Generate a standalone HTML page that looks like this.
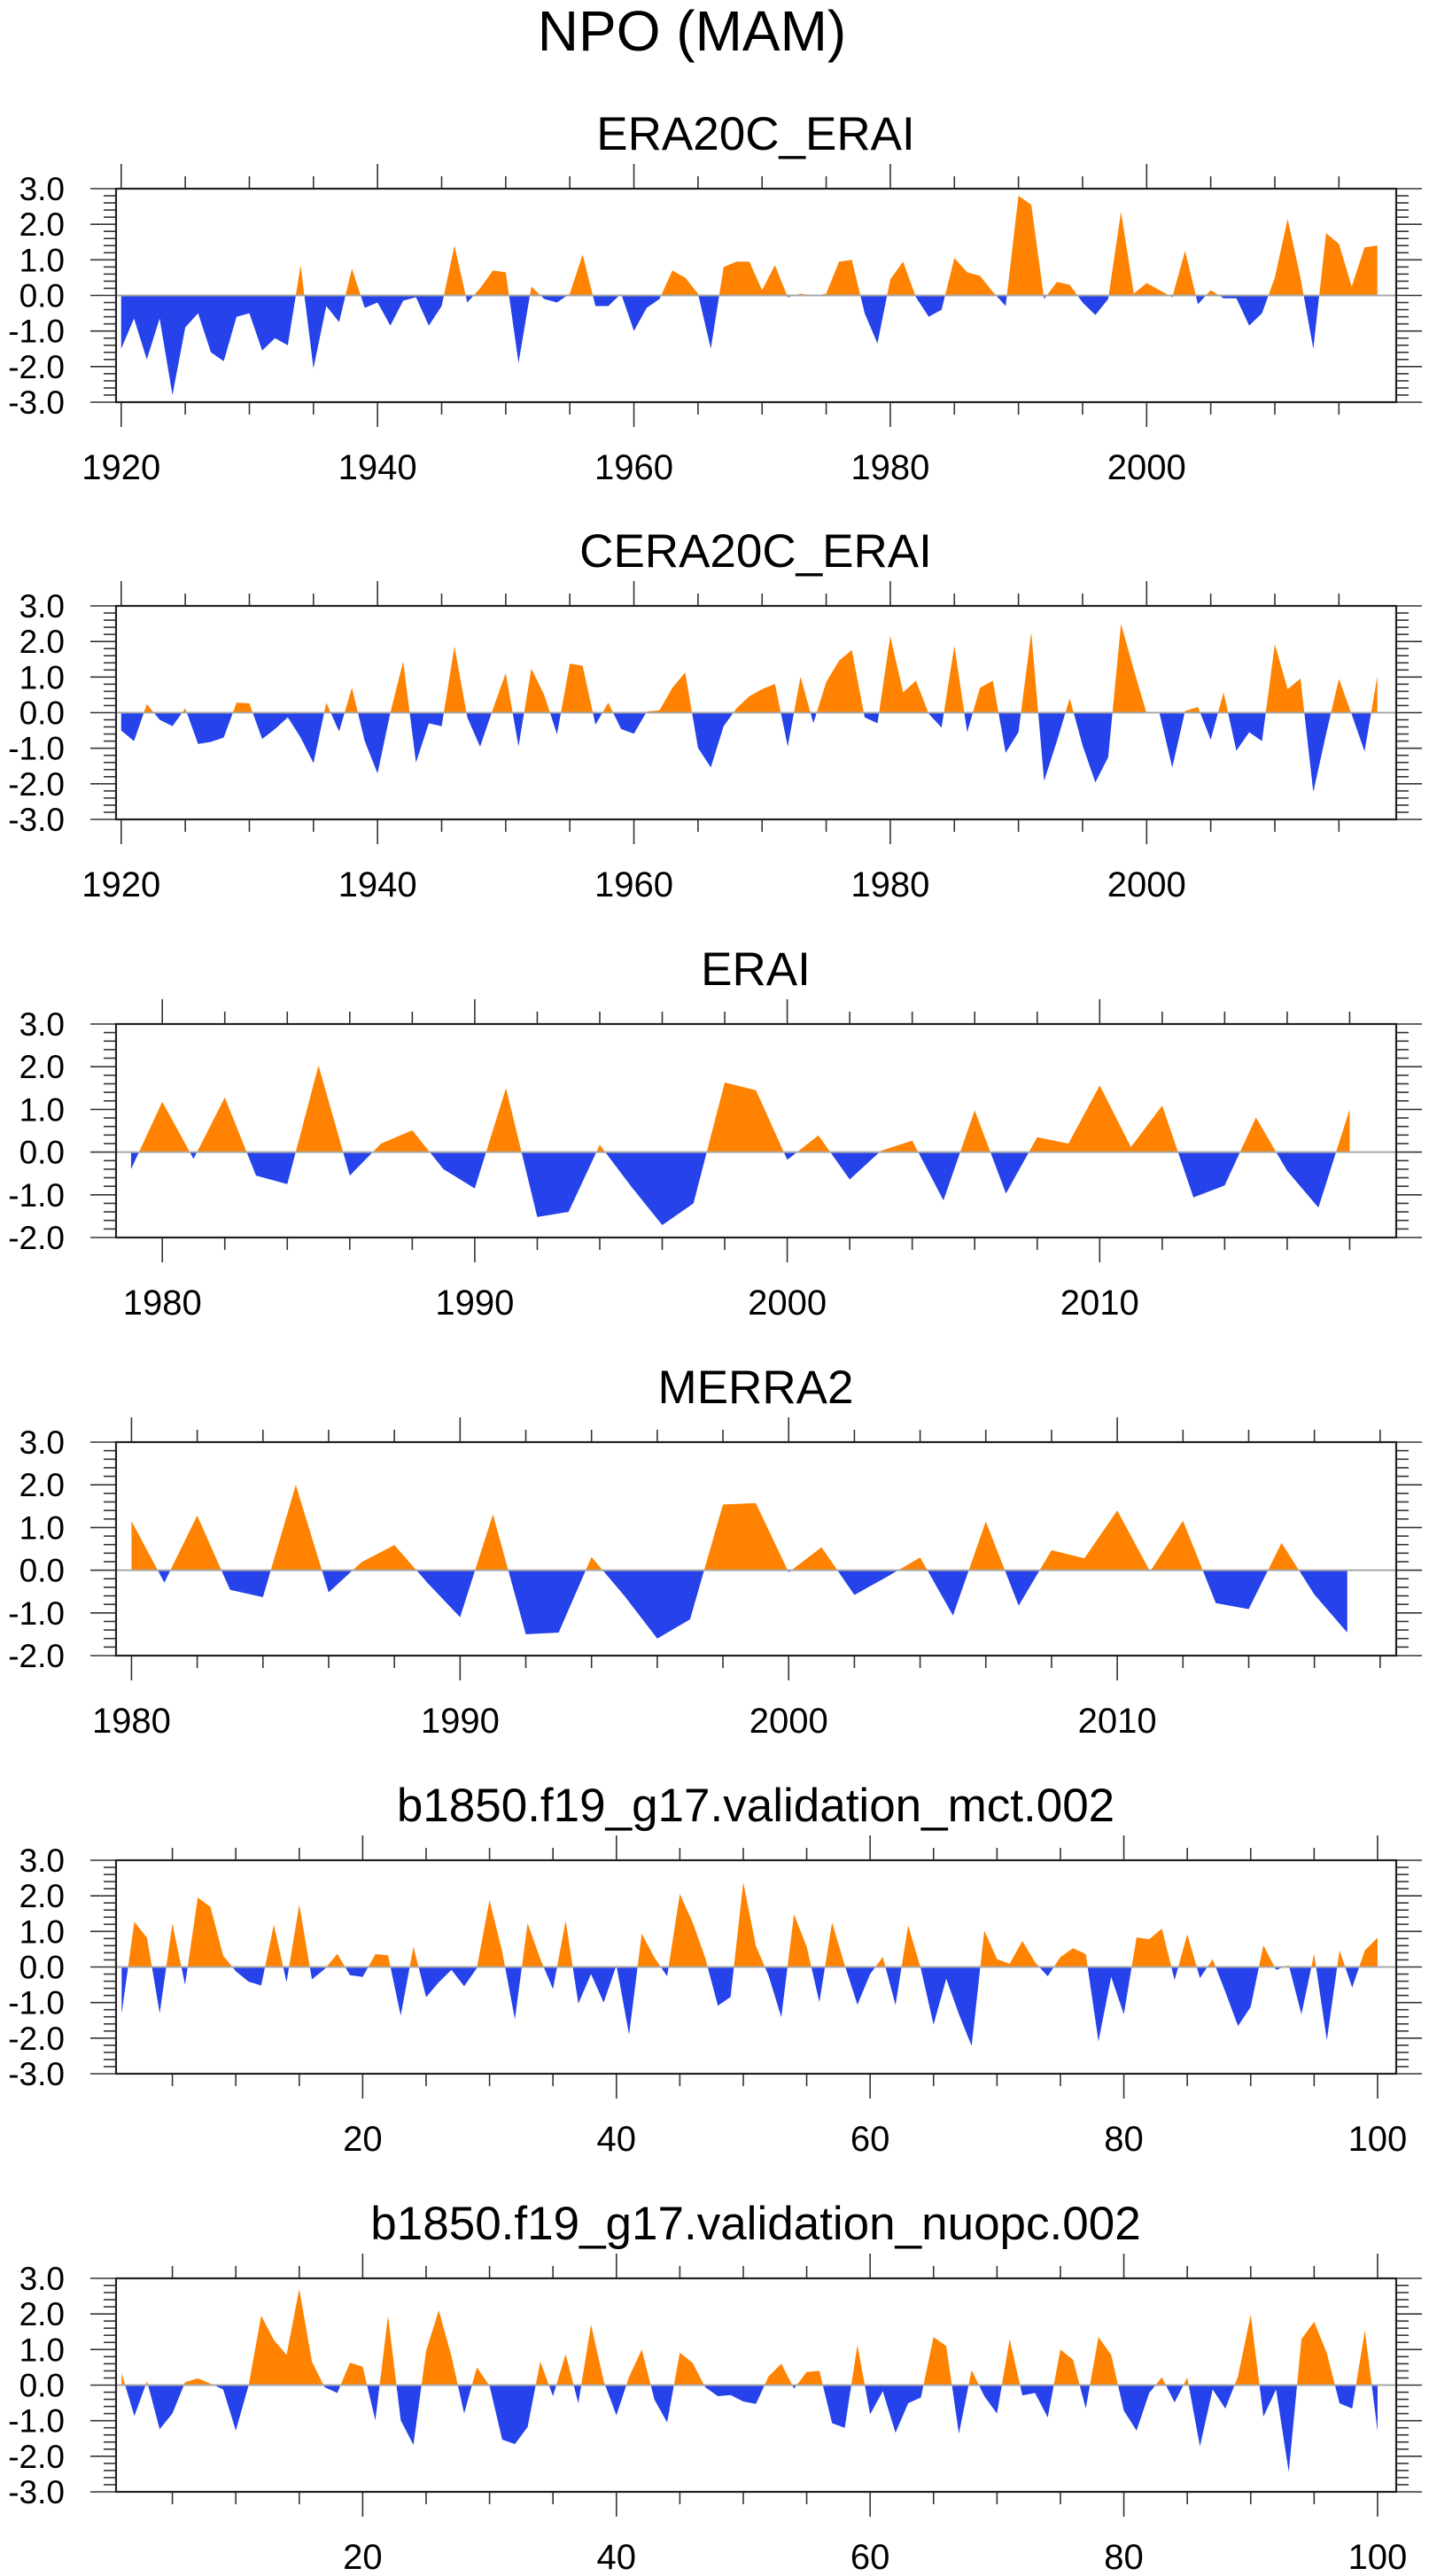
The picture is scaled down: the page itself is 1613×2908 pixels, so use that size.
<!DOCTYPE html>
<html>
<head>
<meta charset="utf-8">
<style>
  html, body { margin: 0; padding: 0; background: #fff; }
  svg { display: block; }
  text { font-family: "Liberation Sans", "DejaVu Sans", sans-serif; fill: #000; }
</style>
</head>
<body>
<svg id="chart" width="1613" height="2908" viewBox="0 0 1613 2908" xmlns="http://www.w3.org/2000/svg">
  <rect x="0" y="0" width="1613" height="2908" fill="#fff"/>
  <text x="781" y="57" font-size="64" text-anchor="middle">NPO (MAM)</text>
</svg>
<script>
// ---- data ----
const era20cStart = 1920;
const era20cVals = [-1.5,-0.65,-1.8,-0.65,-2.8,-0.9,-0.5,-1.6,-1.85,-0.6,-0.5,-1.55,-1.2,-1.4,0.85,-2.05,-0.3,-0.75,0.75,-0.35,-0.2,-0.85,-0.15,-0.05,-0.85,-0.3,1.4,-0.2,0.2,0.7,0.65,-1.9,0.25,-0.1,-0.2,0.05,1.15,-0.3,-0.3,0.05,-1.0,-0.35,-0.1,0.7,0.5,0.05,-1.5,0.8,0.95,0.95,0.15,0.85,-0.05,0.05,-0.02,0.05,0.95,1.0,-0.5,-1.35,0.45,0.95,-0.05,-0.6,-0.4,1.05,0.65,0.55,0.1,-0.3,2.8,2.55,-0.1,0.38,0.3,-0.2,-0.55,-0.1,2.35,0.05,0.35,0.15,-0.05,1.25,-0.25,0.15,-0.08,-0.08,-0.85,-0.5,0.5,2.15,0.5,-1.5,1.75,1.45,0.25,1.35,1.4];
const cera20cStart = 1920;
const cera20cVals = [-0.5,-0.8,0.24,-0.2,-0.38,0.12,-0.88,-0.82,-0.7,0.28,0.26,-0.74,-0.46,-0.13,-0.7,-1.42,0.28,-0.53,0.7,-0.8,-1.71,0.0,1.44,-1.4,-0.3,-0.38,1.86,-0.13,-0.96,0.1,1.11,-0.95,1.24,0.5,-0.61,1.38,1.32,-0.34,0.28,-0.46,-0.59,0.03,0.07,0.7,1.13,-0.99,-1.54,-0.38,0.12,0.46,0.66,0.81,-0.95,1.01,-0.3,0.86,1.46,1.76,-0.13,-0.3,2.15,0.57,0.9,-0.03,-0.42,1.88,-0.55,0.7,0.9,-1.13,-0.55,2.26,-1.92,-0.8,0.4,-0.92,-1.96,-1.25,2.5,1.2,-0.02,-0.02,-1.54,0.05,0.16,-0.76,0.57,-1.07,-0.55,-0.8,1.92,0.66,0.96,-2.23,-0.6,0.95,-0.05,-1.09,1.03];
const eraiStart = 1979;
const eraiVals = [-0.4,1.18,-0.16,1.28,-0.55,-0.75,2.03,-0.55,0.2,0.51,-0.4,-0.85,1.5,-1.52,-1.4,0.17,-0.8,-1.71,-1.2,1.63,1.45,-0.18,0.39,-0.64,0.03,0.27,-1.13,0.98,-0.97,0.35,0.2,1.56,0.12,1.09,-1.06,-0.78,0.81,-0.44,-1.3,1.0];
const merra2Start = 1980;
const merra2Vals = [1.15,-0.29,1.28,-0.46,-0.63,2.0,-0.52,0.19,0.59,-0.29,-1.1,1.31,-1.5,-1.46,0.31,-0.6,-1.6,-1.15,1.54,1.57,-0.05,0.54,-0.58,-0.15,0.3,-1.06,1.14,-0.83,0.47,0.28,1.4,-0.03,1.16,-0.77,-0.91,0.64,-0.57,-1.46];
const mctStart = 1;
const mctVals = [-1.32,1.27,0.82,-1.3,1.22,-0.5,1.95,1.69,0.32,-0.12,-0.41,-0.52,1.19,-0.43,1.75,-0.35,-0.06,0.37,-0.23,-0.28,0.36,0.33,-1.37,0.57,-0.85,-0.43,-0.08,-0.54,-0.03,1.88,0.43,-1.47,1.23,0.23,-0.62,1.3,-1.03,-0.2,-1.0,0.05,-1.9,0.94,0.26,-0.26,2.05,1.26,0.26,-1.09,-0.84,2.38,0.59,-0.25,-1.41,1.48,0.57,-0.99,1.25,0.05,-1.06,-0.2,0.28,-1.07,1.17,-0.05,-1.62,-0.33,-1.33,-2.22,1.02,0.22,0.09,0.73,0.13,-0.26,0.28,0.53,0.36,-2.09,-0.28,-1.33,0.83,0.78,1.08,-0.37,0.92,-0.31,0.22,-0.7,-1.66,-1.12,0.61,-0.08,0.05,-1.33,0.37,-2.06,0.47,-0.58,0.47,0.82];
const nuopcStart = 1;
const nuopcVals = [0.34,-0.87,0.11,-1.24,-0.8,0.08,0.19,0.04,-0.12,-1.28,-0.02,1.95,1.27,0.85,2.7,0.66,-0.06,-0.22,0.63,0.52,-0.99,1.95,-0.99,-1.68,0.96,2.1,0.81,-0.8,0.5,-0.02,-1.53,-1.66,-1.18,0.66,-0.31,0.87,-0.51,1.7,0.11,-0.85,0.23,1.0,-0.41,-1.05,0.91,0.63,-0.06,-0.31,-0.28,-0.46,-0.53,0.25,0.6,-0.1,0.37,0.4,-1.07,-1.2,1.13,-0.82,-0.17,-1.34,-0.51,-0.35,1.35,1.1,-1.37,0.42,-0.31,-0.8,1.29,-0.29,-0.22,-0.91,1.0,0.71,-0.66,1.35,0.85,-0.72,-1.28,-0.22,0.22,-0.49,0.21,-1.72,-0.12,-0.66,0.25,1.98,-0.89,-0.12,-2.44,1.29,1.78,0.9,-0.51,-0.66,1.54,-1.3];

const yLabels6 = ["-3.0","-2.0","-1.0","0.0","1.0","2.0","3.0"];
const yLabels5 = ["-2.0","-1.0","0.0","1.0","2.0","3.0"];
const xLabelsCentury = [1920,1940,1960,1980,2000];
const xLabelsErai = [1980,1990,2000,2010];
const xLabelsModel = [20,40,60,80,100];

// ---- layout ----
const NS = "http://www.w3.org/2000/svg";
const svg = document.getElementById("chart");
const BOX_L = 131, BOX_R = 1576, BOX_H = 241;
const ORANGE = "#ff8200", BLUE = "#2542eb";

const panels = [
  {key:"era20c-erai", title:"ERA20C_ERAI", vals:era20cVals, start:era20cStart, top:213, xmin:1919.6, xmax:2019.47, ymin:-3, ymax:3, yLabels:yLabels6, xLabels:xLabelsCentury, major:20, minor:5, minorFrom:1920},
  {key:"cera20c-erai", title:"CERA20C_ERAI", vals:cera20cVals, start:cera20cStart, top:684, xmin:1919.6, xmax:2019.47, ymin:-3, ymax:3, yLabels:yLabels6, xLabels:xLabelsCentury, major:20, minor:5, minorFrom:1920},
  {key:"erai", title:"ERAI", vals:eraiVals, start:eraiStart, top:1156, xmin:1978.52, xmax:2019.49, ymin:-2, ymax:3, yLabels:yLabels5, xLabels:xLabelsErai, major:10, minor:2, minorFrom:1980},
  {key:"merra2", title:"MERRA2", vals:merra2Vals, start:merra2Start, top:1628, xmin:1979.53, xmax:2018.49, ymin:-2, ymax:3, yLabels:yLabels5, xLabels:xLabelsErai, major:10, minor:2, minorFrom:1980},
  {key:"mct", title:"b1850.f19_g17.validation_mct.002", vals:mctVals, start:mctStart, top:2100, xmin:0.56, xmax:101.47, ymin:-3, ymax:3, yLabels:yLabels6, xLabels:xLabelsModel, major:20, minor:5, minorFrom:5},
  {key:"nuopc", title:"b1850.f19_g17.validation_nuopc.002", vals:nuopcVals, start:nuopcStart, top:2572, xmin:0.56, xmax:101.47, ymin:-3, ymax:3, yLabels:yLabels6, xLabels:xLabelsModel, major:20, minor:5, minorFrom:5}
];

function mk(tag, attrs, parent) {
  const e = document.createElementNS(NS, tag);
  for (const k in attrs) e.setAttribute(k, attrs[k]);
  (parent || svg).appendChild(e);
  return e;
}

panels.forEach((p, pi) => {
  const top = p.top, bot = top + BOX_H;
  const xs = v => BOX_L + (v - p.xmin) / (p.xmax - p.xmin) * (BOX_R - BOX_L);
  const ys = v => bot - (v - p.ymin) / (p.ymax - p.ymin) * BOX_H;
  const g = mk("g", {});
  
  

  const t = mk("text", {x:853, y:top-44, "font-size":53, "text-anchor":"middle"}, g);
  t.textContent = p.title;
  
  

  const y0 = ys(0);
  const defs = mk("defs", {}, g);
  const cA = mk("clipPath", {id:"above"+pi}, defs);
  mk("rect", {x:BOX_L, y:top, width:BOX_R-BOX_L, height:y0-top}, cA);
  const cB = mk("clipPath", {id:"below"+pi}, defs);
  mk("rect", {x:BOX_L, y:y0, width:BOX_R-BOX_L, height:bot-y0}, cB);

  let d = "M" + xs(p.start).toFixed(2) + "," + y0.toFixed(2);
  p.vals.forEach((v, i) => { d += " L" + xs(p.start + i).toFixed(2) + "," + ys(v).toFixed(2); });
  d += " L" + xs(p.start + p.vals.length - 1).toFixed(2) + "," + y0.toFixed(2) + " Z";
  const fa = mk("path", {d:d, fill:ORANGE, "clip-path":"url(#above"+pi+")"}, g);
  
  
  const fb = mk("path", {d:d, fill:BLUE, "clip-path":"url(#below"+pi+")"}, g);
  
  

  const zl = mk("line", {x1:BOX_L, x2:BOX_R, y1:y0, y2:y0, stroke:"#a8a8a8", "stroke-width":2}, g);
  
  

  const yt = mk("g", {stroke:"#333", "stroke-width":1.6}, g);
  
  
  for (let k = 0; k <= Math.round((p.ymax - p.ymin) / 0.2); k++) {
    const v = p.ymin + k * 0.2;
    const y = ys(v);
    const isMajor = k % 5 === 0;
    const len = isMajor ? 29 : 14;
    mk("line", {x1:BOX_L-len, x2:BOX_L, y1:y, y2:y}, yt);
    mk("line", {x1:BOX_R, x2:BOX_R+len, y1:y, y2:y}, yt);
  }
  p.yLabels.forEach(lbl => {
    const yl = mk("text", {x:73, y:ys(parseFloat(lbl))+13, "font-size":37, "text-anchor":"end"}, g);
    yl.textContent = lbl;
    
    
  });

  const xt = mk("g", {stroke:"#333", "stroke-width":1.6}, g);
  
  
  for (let v = p.minorFrom; v <= p.xmax; v += p.minor) {
    if (v < p.xmin) continue;
    const x = xs(v);
    const isMajor = ((v - p.xLabels[0]) % p.major) === 0;
    const len = isMajor ? 28 : 14;
    mk("line", {x1:x, x2:x, y1:top-len, y2:top}, xt);
    mk("line", {x1:x, x2:x, y1:bot, y2:bot+len}, xt);
  }
  p.xLabels.forEach(lbl => {
    const xl = mk("text", {x:xs(lbl), y:bot+87, "font-size":40, "text-anchor":"middle"}, g);
    xl.textContent = String(lbl);
    
    
  });

  const box = mk("rect", {x:BOX_L, y:top, width:BOX_R-BOX_L, height:BOX_H, fill:"none", stroke:"#222", "stroke-width":2.2}, g);
  
  
});
</script>
</body>
</html>
